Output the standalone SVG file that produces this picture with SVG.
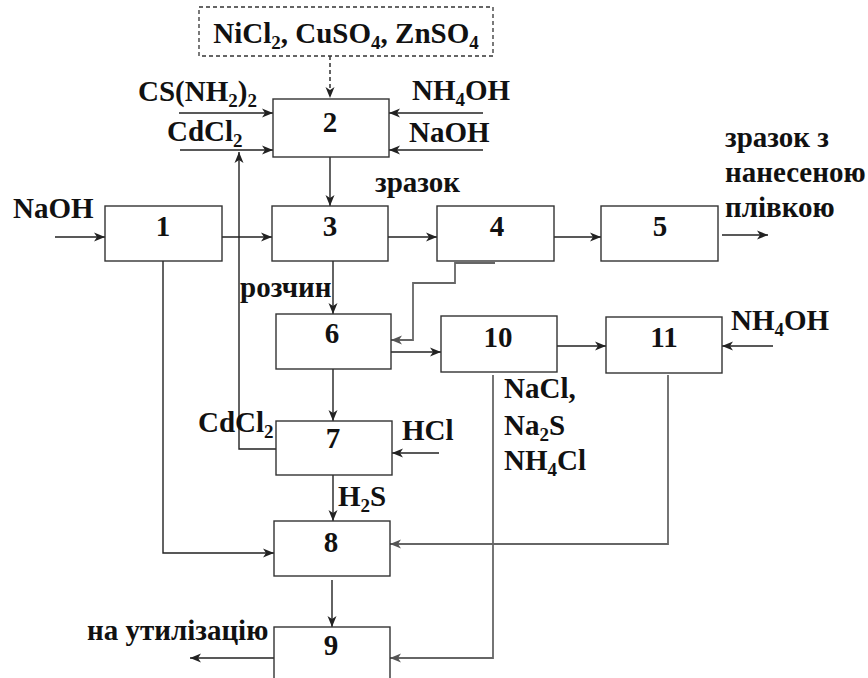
<svg xmlns="http://www.w3.org/2000/svg" width="868" height="678" viewBox="0 0 868 678">
<defs>
<marker id="ah" markerUnits="userSpaceOnUse" markerWidth="12" markerHeight="10" viewBox="0 0 12 10" refX="11" refY="5" orient="auto">
<path d="M0,0.5 L11,5 L0,9.5 L3,5 z" fill="#222"/>
</marker>
<marker id="ahg" markerUnits="userSpaceOnUse" markerWidth="12" markerHeight="10" viewBox="0 0 12 10" refX="11" refY="5" orient="auto">
<path d="M0,0.5 L11,5 L0,9.5 L3,5 z" fill="#555"/>
</marker>
</defs>
<style>
.box{fill:#fff;stroke:#333;stroke-width:1.4}
.dbox{fill:#fff;stroke:#333;stroke-width:1.3;stroke-dasharray:4 3}
.t{font-family:'Liberation Serif','DejaVu Serif',serif;font-weight:700;font-size:29px;fill:#111}
.n{text-anchor:middle}
.c{fill:none;stroke:#222;stroke-width:1.4;marker-end:url(#ah)}
.g{fill:none;stroke:#666;stroke-width:1.8;marker-end:url(#ahg)}
.d{stroke-dasharray:4 3}
.s{font-size:19px}
</style>
<rect width="868" height="678" fill="#fff"/>
<g id="connectors">
<path class="c d" d="M330,56 V98"/>
<path class="c" d="M179,113 H273"/>
<path class="c" d="M180,150 H273"/>
<path class="c" d="M483,113 H389"/>
<path class="c" d="M483,150 H389"/>
<path class="c" d="M330,157 V206"/>
<path class="c" d="M55,237 H105"/>
<path class="c" d="M222,237 H272"/>
<path class="c" d="M388,237 H437"/>
<path class="c" d="M554,237 H601"/>
<path class="c" d="M722,235 H768"/>
<path class="g" d="M495,263 H455 V283 H413 V340 H391"/>
<path class="c" d="M333,261 V314"/>
<path class="c" d="M276,449 H239 V152"/>
<path class="c" d="M333,369 V421"/>
<path class="c" d="M439,453 H392"/>
<path class="c" d="M391,352 H441"/>
<path class="c" d="M557,346 H606"/>
<path class="c" d="M773,346 H722"/>
<path class="g" d="M493,375 V658 H390"/>
<path class="g" d="M668,375 V544 H390"/>
<path class="c" d="M163,261 V553 H274"/>
<path class="c" d="M333,475 V521"/>
<path class="c" d="M332,580 V627"/>
<path class="c" d="M274,658 H190"/>
</g>
<g id="n0"><rect class="dbox" x="199" y="7" width="294" height="49"/>
<text class="t n" x="346" y="43">NiCl<tspan class="s" dy="6">2</tspan><tspan dy="-6">, CuSO</tspan><tspan class="s" dy="6">4</tspan><tspan dy="-6">, ZnSO</tspan><tspan class="s" dy="6">4</tspan></text></g>
<g id="n2"><rect class="box" x="273" y="99" width="116" height="58"/><text class="t n" x="330" y="132">2</text></g>
<g id="n1"><rect class="box" x="105" y="206" width="117" height="55"/><text class="t n" x="163" y="236">1</text></g>
<g id="n3"><rect class="box" x="272" y="206" width="116" height="55"/><text class="t n" x="330" y="236">3</text></g>
<g id="n4"><rect class="box" x="437" y="206" width="117" height="55"/><text class="t n" x="497" y="236">4</text></g>
<g id="n5"><rect class="box" x="601" y="206" width="117" height="55"/><text class="t n" x="660" y="236">5</text></g>
<g id="n6"><rect class="box" x="276" y="314" width="115" height="55"/><text class="t n" x="332" y="343">6</text></g>
<g id="n7"><rect class="box" x="276" y="421" width="116" height="54"/><text class="t n" x="333" y="448">7</text></g>
<g id="n8"><rect class="box" x="274" y="521" width="116" height="55"/><text class="t n" x="331" y="552">8</text></g>
<g id="n9"><rect class="box" x="274" y="627" width="116" height="60"/><text class="t n" x="331" y="655">9</text></g>
<g id="n10"><rect class="box" x="441" y="316" width="116" height="56"/><text class="t n" x="498" y="347">10</text></g>
<g id="n11"><rect class="box" x="606" y="317" width="116" height="56"/><text class="t n" x="664" y="347">11</text></g>
<g id="labels">
<text class="t" x="138" y="101">CS(NH<tspan class="s" dy="6">2</tspan><tspan dy="-6">)</tspan><tspan class="s" dy="6">2</tspan></text>
<text class="t" x="167" y="141">CdCl<tspan class="s" dy="6">2</tspan></text>
<text class="t" x="412" y="100">NH<tspan class="s" dy="6">4</tspan><tspan dy="-6">OH</tspan></text>
<text class="t" x="409" y="142">NaOH</text>
<text class="t" x="13" y="218">NaOH</text>
<text class="t" x="375" y="192">зразок</text>
<text class="t" x="725" y="147">зразок з</text>
<text class="t" x="725" y="182">нанесеною</text>
<text class="t" x="725" y="217">плівкою</text>
<text class="t" x="240" y="297">розчин</text>
<text class="t" x="198" y="432">CdCl<tspan class="s" dy="6">2</tspan></text>
<text class="t" x="402" y="440">HCl</text>
<text class="t" x="731" y="330">NH<tspan class="s" dy="6">4</tspan><tspan dy="-6">OH</tspan></text>
<text class="t" x="504" y="398">NaCl,</text>
<text class="t" x="504" y="435">Na<tspan class="s" dy="6">2</tspan><tspan dy="-6">S</tspan></text>
<text class="t" x="504" y="470">NH<tspan class="s" dy="6">4</tspan><tspan dy="-6">Cl</tspan></text>
<text class="t" x="338" y="506">H<tspan class="s" dy="6">2</tspan><tspan dy="-6">S</tspan></text>
<text class="t" x="87" y="640">на утилізацію</text>
</g>
</svg>
